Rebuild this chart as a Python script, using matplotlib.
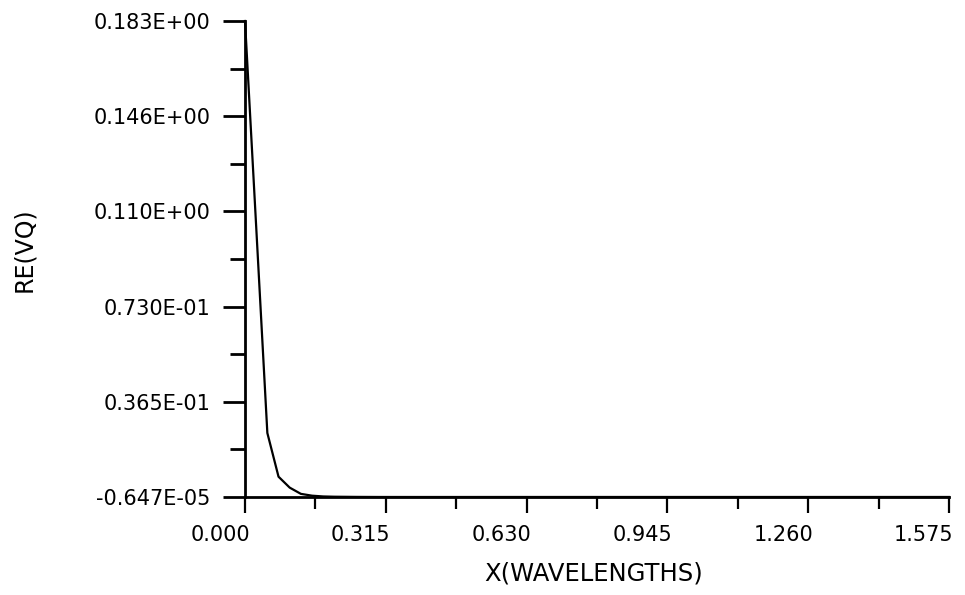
import numpy as np
import matplotlib
matplotlib.use("Agg")
import matplotlib.pyplot as plt
from matplotlib.ticker import FixedLocator, NullFormatter
from matplotlib.transforms import ScaledTranslation

# RE(VQ) lungo x (lunghezze d'onda)
x_wl = [0.000, 0.025, 0.050, 0.075, 0.100, 0.125, 0.150, 0.175, 0.200,
        0.250, 0.300, 0.400, 0.600, 0.800, 1.000, 1.200, 1.400, 1.575]
re_vq = [0.183, 0.1040, 0.0246, 0.0078, 0.0036, 0.0012, 0.0005, 0.0002, 0.0001,
         0.00003, 0.0, -0.00000647, 0.0, 0.0, 0.0, 0.0, 0.0, 0.0]

y_min, y_max = -0.647e-05, 0.183
y_labels = ["-0.647E-05", "0.365E-01", "0.730E-01", "0.110E+00", "0.146E+00", "0.183E+00"]
x_max = 1.575
x_labels = ["0.000", "0.315", "0.630", "0.945", "1.260", "1.575"]

fig = plt.figure(figsize=(9.65, 5.95), dpi=100)
ax = fig.add_axes([245 / 965, 98 / 595, 704 / 965, 476 / 595])

ax.plot(x_wl, re_vq, color="black", lw=1.6, clip_on=False, zorder=3)

ax.set_xlim(0, x_max)
ax.set_ylim(y_min, y_max)

yt = np.linspace(y_min, y_max, len(y_labels))
ax.set_yticks(yt)
ax.set_yticklabels(y_labels)
ax.yaxis.set_minor_locator(FixedLocator((yt[:-1] + yt[1:]) / 2))
xt = np.linspace(0, x_max, len(x_labels))
ax.set_xticks(xt)
ax.set_xticklabels(x_labels)
ax.xaxis.set_minor_locator(FixedLocator((xt[:-1] + xt[1:]) / 2))
ax.xaxis.set_minor_formatter(NullFormatter())
ax.yaxis.set_minor_formatter(NullFormatter())

for s in ("top", "right"):
    ax.spines[s].set_visible(False)
for s in ("left", "bottom"):
    ax.spines[s].set_linewidth(2.0)

ax.tick_params(axis="y", which="major", direction="out", length=16, width=2.0,
               pad=9, labelsize=15)
ax.tick_params(axis="y", which="minor", direction="out", length=11, width=2.0)
ax.tick_params(axis="x", which="major", direction="out", length=11.5, width=1.6,
               pad=9, labelsize=15)
ax.tick_params(axis="x", which="minor", direction="out", length=8.5, width=1.6)

# etichette x spostate a sinistra del tick, come nel plotter
shift = ScaledTranslation(-25 / 100, 0, fig.dpi_scale_trans)
for lab in ax.get_xticklabels():
    lab.set_transform(lab.get_transform() + shift)

fig.text(594 / 965, 1 - 574 / 595, "X(WAVELENGTHS)", ha="center", va="center",
         fontsize=17.5)
fig.text(24 / 965, 1 - 250 / 595, "RE(VQ)", ha="center", va="center",
         rotation=90, fontsize=17)

fig.savefig("out.png", dpi=100, facecolor="white")
